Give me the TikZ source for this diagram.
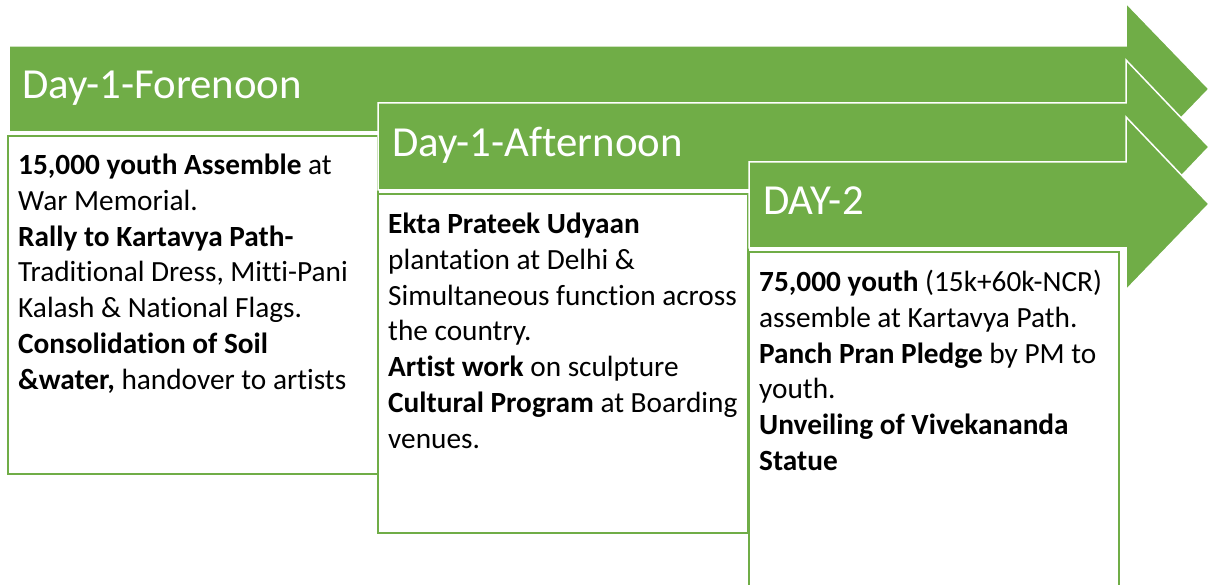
\documentclass[tikz,border=0pt]{standalone}
\usepackage{fontspec}
\setmainfont{Carlito}[Ligatures={NoCommon}]
\definecolor{gr}{HTML}{70AD47}
\begin{document}
\begin{tikzpicture}[x=1pt,y=-1pt,
  arrowshape/.style={fill=gr, draw=white, line width=1.5pt, line join=miter},
  boxshape/.style={draw=gr, line width=2pt, fill=white},
  headtxt/.style={font=\fontsize{42.8}{50}\selectfont, text=white, anchor=base west, inner sep=0pt},
  bodytxt/.style={font=\fontsize{29.3}{35}\selectfont, anchor=base west, inner sep=0pt}]
\useasboundingbox (0,0) rectangle (1212,585);
\clip (0,0) rectangle (1212,585);
% arrow 1
\path[arrowshape] (9,46) -- (1126,46) -- (1126,3) -- (1209,89) -- (1126,175) -- (1126,132) -- (9,132) -- cycle;
\node[headtxt] (h1) at (22,98.5) {Day-1-Forenoon};
\path[boxshape] (8,136) rectangle (378,474);
\foreach \t [count=\i from 0] in {{\textbf{15,000 youth Assemble} at},{War Memorial.},{\textbf{Rally to Kartavya Path-}},{Traditional Dress, Mitti-Pani},{Kalash \& National Flags.},{\textbf{Consolidation of Soil}},{\textbf{\&water,} handover to artists}}
  \node[bodytxt, name=a\i] at (18,174.5+35.8*\i) {\t};
% arrow 2
\path[arrowshape] (378,103) -- (1126,103) -- (1126,60) -- (1209,147) -- (1126,234) -- (1126,190) -- (378,190) -- cycle;
\node[headtxt] (h2) at (392,156.5) {Day-1-Afternoon};
\path[boxshape] (378,194) rectangle (748,533);
\foreach \t [count=\i from 0] in {{\textbf{Ekta Prateek Udyaan}},{plantation at Delhi \&},{Simultaneous function across},{the country.},{\textbf{Artist work} on sculpture},{\textbf{Cultural Program} at Boarding},{venues.}}
  \node[bodytxt, name=b\i] at (388,233.5+35.8*\i) {\t};
% arrow 3
\path[arrowshape] (749,162) -- (1126,162) -- (1126,117) -- (1209,204) -- (1126,290) -- (1126,248) -- (749,248) -- cycle;
\node[headtxt] (h3) at (763,214.5) {DAY-2};
\path[boxshape] (749,252) rectangle (1119,590);
\foreach \t [count=\i from 0] in {{\textbf{75,000 youth} (15k+60k-NCR)},{assemble at Kartavya Path.},{\textbf{Panch Pran Pledge} by PM to},{youth.},{\textbf{Unveiling of Vivekananda}},{\textbf{Statue}}}
  \node[bodytxt, name=c\i] at (759,291.5+35.8*\i) {\t};
\end{tikzpicture}
\end{document}
